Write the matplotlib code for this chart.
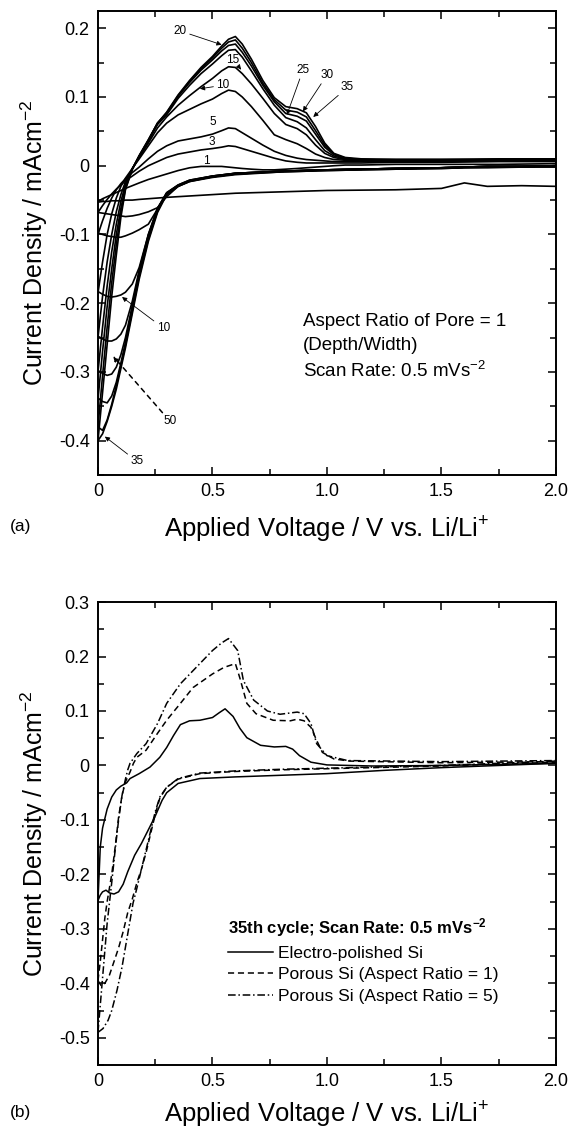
import matplotlib
matplotlib.use('Agg')
import matplotlib.pyplot as plt
from matplotlib.ticker import MultipleLocator, FuncFormatter

plt.rcParams['font.family'] = ['Liberation Sans', 'DejaVu Sans']
plt.rcParams['mathtext.fontset'] = 'custom'
plt.rcParams['mathtext.rm'] = 'Liberation Sans'
plt.rcParams['mathtext.it'] = 'Liberation Sans:italic'
plt.rcParams['mathtext.bf'] = 'Liberation Sans:bold'

# ---------------- panel (a): cycles of porous Si, aspect ratio 1 ----------------
cycles = [1, 3, 5, 10, 15, 20, 25, 30, 35]

v_anodic = [0.00, 0.02, 0.04, 0.06, 0.08, 0.10, 0.12, 0.15, 0.18, 0.22, 0.26, 0.30,
            0.35, 0.40, 0.45, 0.50, 0.54, 0.57, 0.60, 0.63, 0.67, 0.72, 0.77, 0.82,
            0.87, 0.91, 0.95, 0.99, 1.03, 1.08, 1.15, 1.30, 1.50, 1.75, 2.00]
an_1 = [-0.052, -0.048, -0.045, -0.042, -0.039, -0.036, -0.033, -0.029, -0.025, -0.020,
        -0.016, -0.012, -0.007, -0.003, -0.001, -0.001, -0.001, -0.002, -0.003, -0.004,
        -0.005, -0.006, -0.006, -0.005, -0.004, -0.003, -0.002, -0.001, 0.000, 0.001,
        0.001, 0.002, 0.002, 0.002, 0.003]
an_3 = [-0.068, -0.058, -0.049, -0.041, -0.034, -0.028, -0.022, -0.015, -0.008, 0.000,
        0.006, 0.012, 0.017, 0.020, 0.023, 0.025, 0.027, 0.029, 0.028, 0.025,
        0.021, 0.016, 0.011, 0.007, 0.005, 0.004, 0.004, 0.004, 0.004, 0.004,
        0.004, 0.005, 0.005, 0.006, 0.006]
an_5 = [-0.100, -0.080, -0.062, -0.047, -0.035, -0.026, -0.019, -0.010, -0.002, 0.010,
        0.021, 0.029, 0.036, 0.039, 0.042, 0.046, 0.051, 0.055, 0.054, 0.048,
        0.040, 0.030, 0.021, 0.015, 0.011, 0.009, 0.008, 0.007, 0.006, 0.006,
        0.006, 0.006, 0.006, 0.007, 0.007]
an_10 = [-0.185, -0.140, -0.100, -0.070, -0.047, -0.030, -0.018, -0.004, 0.010, 0.029,
         0.048, 0.062, 0.074, 0.082, 0.090, 0.097, 0.105, 0.110, 0.108, 0.100,
         0.086, 0.066, 0.045, 0.038, 0.032, 0.025, 0.017, 0.012, 0.009, 0.008,
         0.008, 0.008, 0.008, 0.008, 0.008]
an_15 = [-0.250, -0.190, -0.140, -0.100, -0.067, -0.042, -0.023, -0.004, 0.012, 0.033,
         0.055, 0.071, 0.088, 0.102, 0.115, 0.127, 0.138, 0.144, 0.143, 0.134,
         0.119, 0.098, 0.076, 0.060, 0.054, 0.045, 0.030, 0.018, 0.012, 0.009,
         0.008, 0.008, 0.008, 0.009, 0.009]
an_20 = [-0.300, -0.235, -0.175, -0.125, -0.085, -0.052, -0.027, -0.004, 0.014, 0.036,
         0.060, 0.074, 0.098, 0.117, 0.134, 0.148, 0.160, 0.168, 0.169, 0.158,
         0.138, 0.112, 0.088, 0.070, 0.064, 0.055, 0.038, 0.022, 0.014, 0.010,
         0.009, 0.008, 0.008, 0.009, 0.009]
an_25 = [-0.340, -0.270, -0.205, -0.150, -0.100, -0.062, -0.031, -0.005, 0.014, 0.037,
         0.062, 0.076, 0.101, 0.121, 0.139, 0.154, 0.167, 0.175, 0.177, 0.165,
         0.145, 0.117, 0.093, 0.076, 0.072, 0.065, 0.046, 0.027, 0.016, 0.011,
         0.009, 0.009, 0.009, 0.009, 0.010]
an_30 = [-0.380, -0.305, -0.235, -0.170, -0.115, -0.068, -0.033, -0.005, 0.014, 0.037,
         0.062, 0.077, 0.102, 0.123, 0.141, 0.157, 0.171, 0.180, 0.183, 0.171,
         0.150, 0.120, 0.096, 0.081, 0.078, 0.071, 0.051, 0.030, 0.017, 0.011,
         0.009, 0.009, 0.009, 0.009, 0.010]
an_35 = [-0.400, -0.330, -0.260, -0.190, -0.130, -0.075, -0.035, -0.005, 0.015, 0.038,
         0.062, 0.078, 0.103, 0.124, 0.143, 0.159, 0.174, 0.184, 0.188, 0.177,
         0.155, 0.124, 0.099, 0.086, 0.083, 0.077, 0.057, 0.033, 0.018, 0.012,
         0.010, 0.009, 0.009, 0.010, 0.010]

v_cathodic = [0.00, 0.02, 0.04, 0.06, 0.08, 0.10, 0.12, 0.15, 0.18, 0.22, 0.26, 0.30,
              0.35, 0.40, 0.50, 0.60, 0.80, 1.00, 1.30, 1.50, 1.60, 1.70, 1.85, 2.00]
ca_1 = [-0.053, -0.052, -0.052, -0.051, -0.051, -0.051, -0.050, -0.050, -0.049, -0.048,
        -0.047, -0.046, -0.045, -0.044, -0.042, -0.040, -0.038, -0.036, -0.035, -0.033,
        -0.025, -0.030, -0.029, -0.030]
ca_3 = [-0.068, -0.069, -0.070, -0.071, -0.072, -0.073, -0.074, -0.073, -0.071, -0.067,
        -0.061, -0.045, -0.030, -0.023, -0.017, -0.013, -0.009, -0.007, -0.005, -0.004,
        -0.003, -0.003, -0.002, -0.002]
ca_5 = [-0.098, -0.100, -0.102, -0.103, -0.104, -0.104, -0.102, -0.098, -0.093, -0.085,
        -0.063, -0.040, -0.029, -0.022, -0.016, -0.012, -0.009, -0.007, -0.005, -0.004,
        -0.003, -0.002, -0.002, -0.001]
ca_10 = [-0.183, -0.187, -0.190, -0.191, -0.190, -0.188, -0.184, -0.172, -0.148, -0.100,
         -0.062, -0.039, -0.028, -0.021, -0.015, -0.011, -0.008, -0.006, -0.004, -0.003,
         -0.002, -0.002, -0.001, 0.000]
ca_15 = [-0.248, -0.252, -0.255, -0.255, -0.252, -0.245, -0.232, -0.197, -0.152, -0.100,
         -0.062, -0.040, -0.028, -0.021, -0.015, -0.011, -0.008, -0.006, -0.004, -0.003,
         -0.002, -0.001, -0.001, 0.000]
ca_20 = [-0.298, -0.302, -0.305, -0.303, -0.293, -0.275, -0.250, -0.203, -0.155, -0.102,
         -0.063, -0.040, -0.029, -0.022, -0.015, -0.011, -0.008, -0.006, -0.004, -0.003,
         -0.002, -0.001, -0.001, 0.000]
ca_25 = [-0.338, -0.343, -0.345, -0.335, -0.315, -0.287, -0.257, -0.207, -0.158, -0.104,
         -0.064, -0.041, -0.029, -0.022, -0.016, -0.011, -0.008, -0.006, -0.004, -0.003,
         -0.002, -0.001, -0.001, 0.000]
ca_30 = [-0.380, -0.385, -0.370, -0.347, -0.320, -0.291, -0.261, -0.211, -0.161, -0.107,
         -0.066, -0.041, -0.030, -0.022, -0.016, -0.012, -0.008, -0.006, -0.004, -0.003,
         -0.002, -0.001, -0.001, 0.000]
ca_35 = [-0.400, -0.390, -0.372, -0.350, -0.325, -0.295, -0.265, -0.215, -0.165, -0.110,
         -0.068, -0.042, -0.030, -0.023, -0.016, -0.012, -0.008, -0.006, -0.004, -0.003,
         -0.002, -0.001, -0.001, 0.000]

anodic = [an_1, an_3, an_5, an_10, an_15, an_20, an_25, an_30, an_35]
cathodic = [ca_1, ca_3, ca_5, ca_10, ca_15, ca_20, ca_25, ca_30, ca_35]

# ---------------- panel (b): 35th cycle, three electrodes ----------------
v_pol_an = [0.00, 0.01, 0.02, 0.04, 0.06, 0.08, 0.10, 0.125, 0.14, 0.18, 0.227, 0.27,
            0.30, 0.33, 0.36, 0.40, 0.445, 0.50, 0.53, 0.555, 0.59, 0.62, 0.65, 0.71,
            0.77, 0.82, 0.85, 0.88, 0.93, 1.00, 1.20, 1.50, 1.75, 2.00]
i_pol_an = [-0.248, -0.150, -0.115, -0.080, -0.058, -0.045, -0.038, -0.032, -0.024, -0.015,
            -0.003, 0.015, 0.033, 0.055, 0.075, 0.082, 0.083, 0.088, 0.097, 0.104,
            0.090, 0.068, 0.051, 0.037, 0.034, 0.035, 0.030, 0.018, 0.006, 0.001,
            -0.001, 0.000, 0.002, 0.004]
v_pol_ca = [0.00, 0.01, 0.02, 0.035, 0.05, 0.07, 0.09, 0.11, 0.13, 0.16, 0.19, 0.22,
            0.25, 0.28, 0.30, 0.35, 0.445, 0.60, 0.80, 1.00, 1.25, 1.50, 1.75, 2.00]
i_pol_ca = [-0.248, -0.238, -0.232, -0.229, -0.234, -0.236, -0.232, -0.218, -0.195, -0.165,
            -0.143, -0.118, -0.093, -0.064, -0.050, -0.033, -0.024, -0.021, -0.018, -0.015,
            -0.009, -0.004, 0.000, 0.004]

v_ar1_an = [0.00, 0.01, 0.02, 0.03, 0.04, 0.06, 0.075, 0.09, 0.105, 0.12, 0.14, 0.155,
            0.17, 0.21, 0.26, 0.30, 0.36, 0.415, 0.50, 0.55, 0.60, 0.62, 0.65, 0.69,
            0.765, 0.84, 0.87, 0.90, 0.93, 0.955, 0.98, 1.03, 1.10, 1.50, 2.00]
i_ar1_an = [-0.395, -0.360, -0.320, -0.280, -0.250, -0.200, -0.150, -0.095, -0.055, -0.030,
            -0.012, 0.004, 0.015, 0.028, 0.059, 0.083, 0.114, 0.143, 0.168, 0.180,
            0.187, 0.160, 0.114, 0.095, 0.083, 0.082, 0.085, 0.082, 0.070, 0.046,
            0.024, 0.012, 0.008, 0.005, 0.007]
v_ar1_ca = [0.00, 0.015, 0.03, 0.05, 0.07, 0.09, 0.11, 0.13, 0.15, 0.17, 0.19, 0.21,
            0.23, 0.25, 0.27, 0.30, 0.35, 0.445, 0.60, 0.80, 1.00, 1.50, 2.00]
i_ar1_ca = [-0.395, -0.405, -0.400, -0.385, -0.360, -0.335, -0.305, -0.270, -0.245, -0.215,
            -0.190, -0.160, -0.125, -0.090, -0.060, -0.040, -0.025, -0.015, -0.011, -0.008,
            -0.006, -0.001, 0.006]

v_ar5_an = [0.00, 0.01, 0.02, 0.03, 0.04, 0.06, 0.075, 0.09, 0.105, 0.12, 0.13, 0.14,
            0.17, 0.21, 0.26, 0.30, 0.36, 0.415, 0.50, 0.54, 0.57, 0.61, 0.635, 0.68,
            0.74, 0.795, 0.87, 0.90, 0.93, 0.955, 1.00, 1.09, 1.50, 2.00]
i_ar5_an = [-0.490, -0.440, -0.390, -0.340, -0.290, -0.215, -0.155, -0.100, -0.055, -0.025,
            -0.008, 0.004, 0.022, 0.040, 0.077, 0.114, 0.150, 0.174, 0.211, 0.225,
            0.233, 0.211, 0.156, 0.120, 0.100, 0.094, 0.098, 0.095, 0.077, 0.040,
            0.018, 0.009, 0.007, 0.009]
v_ar5_ca = [0.00, 0.022, 0.044, 0.06, 0.083, 0.105, 0.13, 0.153, 0.17, 0.19, 0.21, 0.23,
            0.25, 0.27, 0.30, 0.35, 0.445, 0.60, 0.80, 1.00, 1.50, 2.00]
i_ar5_ca = [-0.490, -0.483, -0.468, -0.450, -0.413, -0.370, -0.309, -0.253, -0.225, -0.190,
            -0.155, -0.120, -0.085, -0.058, -0.040, -0.024, -0.014, -0.010, -0.007, -0.005,
            0.000, 0.008]

legend_labels = ['Electro-polished Si', 'Porous Si (Aspect Ratio = 1)', 'Porous Si (Aspect Ratio = 5)']

xlabel = 'Applied Voltage / V vs. Li/Li$^{+}$'
ylabel = 'Current Density / mAcm$^{-2}$'


def fmt(v, pos):
    if abs(v) < 1e-9:
        return '0'
    return '%.1f' % v


def style_axes(ax, ymin, ymax, xpad):
    ax.set_xlim(0, 2.0)
    ax.set_ylim(ymin, ymax)
    ax.xaxis.set_major_locator(MultipleLocator(0.5))
    ax.xaxis.set_minor_locator(MultipleLocator(0.25))
    ax.yaxis.set_major_locator(MultipleLocator(0.1))
    ax.yaxis.set_minor_locator(MultipleLocator(0.05))
    ax.xaxis.set_major_formatter(FuncFormatter(fmt))
    ax.yaxis.set_major_formatter(FuncFormatter(fmt))
    ax.tick_params(which='both', direction='in', top=True, right=True, width=1.1)
    ax.tick_params(which='major', length=6, labelsize=13, pad=6)
    ax.tick_params(which='minor', length=4.5)
    for s in ax.spines.values():
        s.set_linewidth(1.4)
    ax.set_xlabel(xlabel, fontsize=18.5, labelpad=xpad)
    ax.set_ylabel(ylabel, fontsize=18, labelpad=6)


fig = plt.figure(figsize=(5.7, 11.3), dpi=100)
ax1 = fig.add_axes([0.1719, 0.5796, 0.8035, 0.4106])
ax2 = fig.add_axes([0.1719, 0.0575, 0.8035, 0.4097])

for an, ca in zip(anodic, cathodic):
    ax1.plot(v_anodic, an, color='black', lw=1.2)
    ax1.plot(v_cathodic, ca, color='black', lw=1.2)

style_axes(ax1, -0.45, 0.225, 10)

small = dict(fontsize=8.5, family=['Liberation Sans Narrow', 'Liberation Sans'], ha='center', va='center')
arr = dict(arrowstyle='-|>', lw=0.6, color='black', mutation_scale=7, shrinkA=0, shrinkB=0)

ax1.annotate('20', xy=(0.54, 0.176), xytext=(0.36, 0.196), arrowprops=arr, **small)
ax1.annotate('15', xy=(0.625, 0.140), xytext=(0.59, 0.154), arrowprops=arr, **small)
ax1.annotate('10', xy=(0.445, 0.112), xytext=(0.545, 0.117), arrowprops=arr, **small)
ax1.text(0.503, 0.063, '5', **small)
ax1.text(0.497, 0.034, '3', **small)
ax1.text(0.475, 0.007, '1', **small)
ax1.annotate('25', xy=(0.825, 0.074), xytext=(0.895, 0.139), arrowprops=arr, **small)
ax1.annotate('30', xy=(0.895, 0.079), xytext=(1.0, 0.132), arrowprops=arr, **small)
ax1.annotate('35', xy=(0.94, 0.071), xytext=(1.09, 0.114), arrowprops=arr, **small)
ax1.annotate('10', xy=(0.105, -0.191), xytext=(0.285, -0.236), arrowprops=arr, **small)
arr_d = dict(arr, lw=1.1, linestyle=(0, (3, 3)))
ax1.annotate('50', xy=(0.066, -0.277), xytext=(0.315, -0.372), arrowprops=arr_d, **small)
ax1.annotate('35', xy=(0.03, -0.394), xytext=(0.17, -0.43), arrowprops=arr, **small)

ax1.text(0.895, -0.226, 'Aspect Ratio of Pore = 1', fontsize=13.5, ha='left', va='center')
ax1.text(0.895, -0.262, '(Depth/Width)', fontsize=13.5, ha='left', va='center')
ax1.text(0.895, -0.299, 'Scan Rate: 0.5 mVs$^{-2}$', fontsize=13.5, ha='left', va='center')

# panel b
l1, = ax2.plot(v_pol_an, i_pol_an, color='black', lw=1.1, ls='-')
ax2.plot(v_pol_ca, i_pol_ca, color='black', lw=1.1, ls='-')
l2, = ax2.plot(v_ar1_an, i_ar1_an, color='black', lw=1.1, ls=(0, (4, 2.5)))
ax2.plot(v_ar1_ca, i_ar1_ca, color='black', lw=1.1, ls=(0, (4, 2.5)))
l3, = ax2.plot(v_ar5_an, i_ar5_an, color='black', lw=1.1, ls=(0, (5, 1.8, 1, 1.8)))
ax2.plot(v_ar5_ca, i_ar5_ca, color='black', lw=1.1, ls=(0, (5, 1.8, 1, 1.8)))

style_axes(ax2, -0.55, 0.3, 7)

leg = ax2.legend([l1, l2, l3], legend_labels, loc='upper left', bbox_to_anchor=(0.283, 0.322),
                 frameon=False, fontsize=12.5, handlelength=2.6, handletextpad=0.3,
                 labelspacing=0.38, borderpad=0, borderaxespad=0,
                 title='35th cycle; Scan Rate: 0.5 mVs$^{\\mathbf{-2}}$',
                 title_fontproperties={'weight': 'bold', 'size': 12}, alignment='left')

fig.text(0.018, 1 - 527 / 1130, '(a)', fontsize=12.5, ha='left', va='center')
fig.text(0.018, 1 - 1113 / 1130, '(b)', fontsize=12.5, ha='left', va='center')

fig.savefig('out.png', dpi=100)
